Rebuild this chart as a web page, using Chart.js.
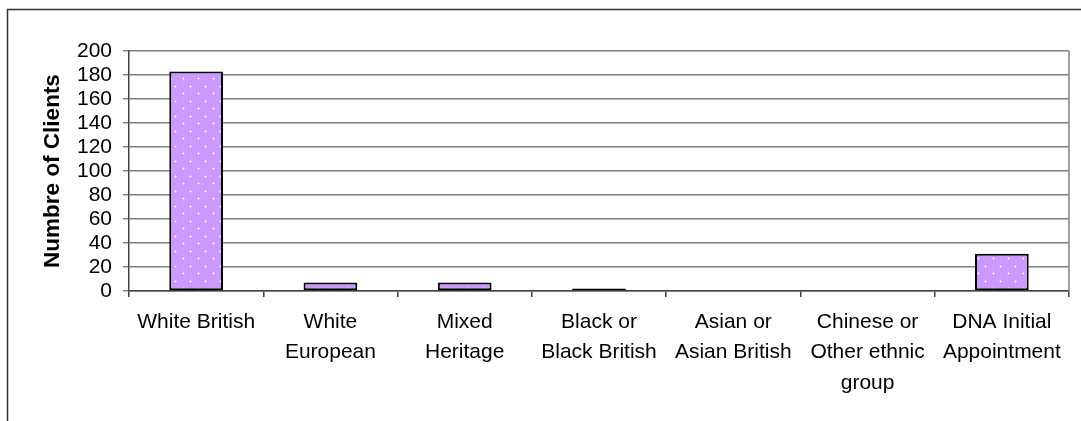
<!DOCTYPE html>
<html>
<head>
<meta charset="utf-8">
<script src="https://cdn.jsdelivr.net/npm/chart.js@4/dist/chart.umd.min.js"></script>
<style>
  html, body { margin: 0; padding: 0; background: #fff; overflow: hidden; }
  #wrap { width: 1081px; height: 421px; position: relative; }
</style>
</head>
<body>
<div id="wrap"><canvas id="myChart" width="1081" height="421"></canvas></div>
<script>
// Clients by ethnic group
const groups = [
  'White British',
  ['White', 'European'],
  ['Mixed', 'Heritage'],
  ['Black or', 'Black British'],
  ['Asian or', 'Asian British'],
  ['Chinese or', 'Other ethnic', 'group'],
  ['DNA Initial', 'Appointment']
];
const clients = [183, 7, 7, 2, 0, 0, 31];
const yTicks = [0, 20, 40, 60, 80, 100, 120, 140, 160, 180, 200];

const FONT = "'Liberation Sans', Arial, sans-serif";

// lavender fill with small white dots
function dotPattern() {
  const tile = document.createElement('canvas');
  tile.width = 15;
  tile.height = 15;
  const t = tile.getContext('2d');
  t.fillStyle = '#cc99ff';
  t.fillRect(0, 0, 15, 15);
  [[3, 3], [10, 11]].forEach(([x, y]) => {
    t.fillStyle = '#e2c6ff';
    t.fillRect(x - 1, y, 3, 1);
    t.fillRect(x, y - 1, 1, 3);
    t.fillStyle = '#ffffff';
    t.fillRect(x, y, 1, 1);
  });
  return t.createPattern(tile, 'repeat');
}

// outer frame + right edge of the plot area
const framePlugin = {
  id: 'frame',
  beforeDraw(chart) {
    const c = chart.ctx;
    c.save();
    c.strokeStyle = '#333';
    c.lineWidth = 1.5;
    c.beginPath();
    c.moveTo(7.5, chart.height);
    c.lineTo(7.5, 9.5);
    c.lineTo(chart.width, 9.5);
    c.stroke();
    c.restore();
  },
  afterDraw(chart) {
    const a = chart.chartArea;
    const c = chart.ctx;
    c.save();
    c.strokeStyle = '#808080';
    c.lineWidth = 1.5;
    c.beginPath();
    c.moveTo(a.right, a.top);
    c.lineTo(a.right, a.bottom);
    c.stroke();
    c.restore();
  }
};

var ctx = document.getElementById('myChart').getContext('2d');
var myChart = new Chart(ctx, {
  type: 'bar',
  data: {
    labels: groups,
    datasets: [{
      label: 'Numbre of Clients',
      data: clients,
      backgroundColor: dotPattern(),
      borderColor: '#000',
      borderWidth: 2,
      borderSkipped: false,
      categoryPercentage: 1,
      barPercentage: 0.4
    }]
  },
  plugins: [framePlugin],
  options: {
    responsive: false,
    animation: false,
    layout: { padding: { top: 51, right: 12, bottom: 0, left: 0 } },
    plugins: {
      legend: { display: false },
      tooltip: { enabled: false }
    },
    scales: {
      x: {
        afterFit(scale) { scale.height = 130; },
        grid: {
          offset: true,
          drawOnChartArea: false,
          tickLength: 6,
          color: '#404040',
          lineWidth: 1.5
        },
        border: { color: '#404040', width: 1.5 },
        ticks: {
          color: '#000',
          padding: 10,
          maxRotation: 0,
          autoSkip: false,
          font: { family: FONT, size: 21, lineHeight: 1.45 }
        }
      },
      y: {
        min: 0,
        max: 200,
        afterFit(scale) { scale.width = 129; },
        afterBuildTicks(scale) { scale.ticks = yTicks.map(v => ({ value: v })); },
        grid: { color: '#808080', lineWidth: 1.5, tickLength: 6 },
        border: { color: '#404040', width: 1.5 },
        ticks: {
          color: '#000',
          padding: 11,
          autoSkip: false,
          font: { family: FONT, size: 21 }
        },
        title: {
          display: true,
          text: 'Numbre of Clients',
          color: '#000',
          padding: { top: 39, bottom: 0 },
          font: { family: FONT, size: 22.5, weight: 'bold' }
        }
      }
    }
  }
});
</script>
</body>
</html>
